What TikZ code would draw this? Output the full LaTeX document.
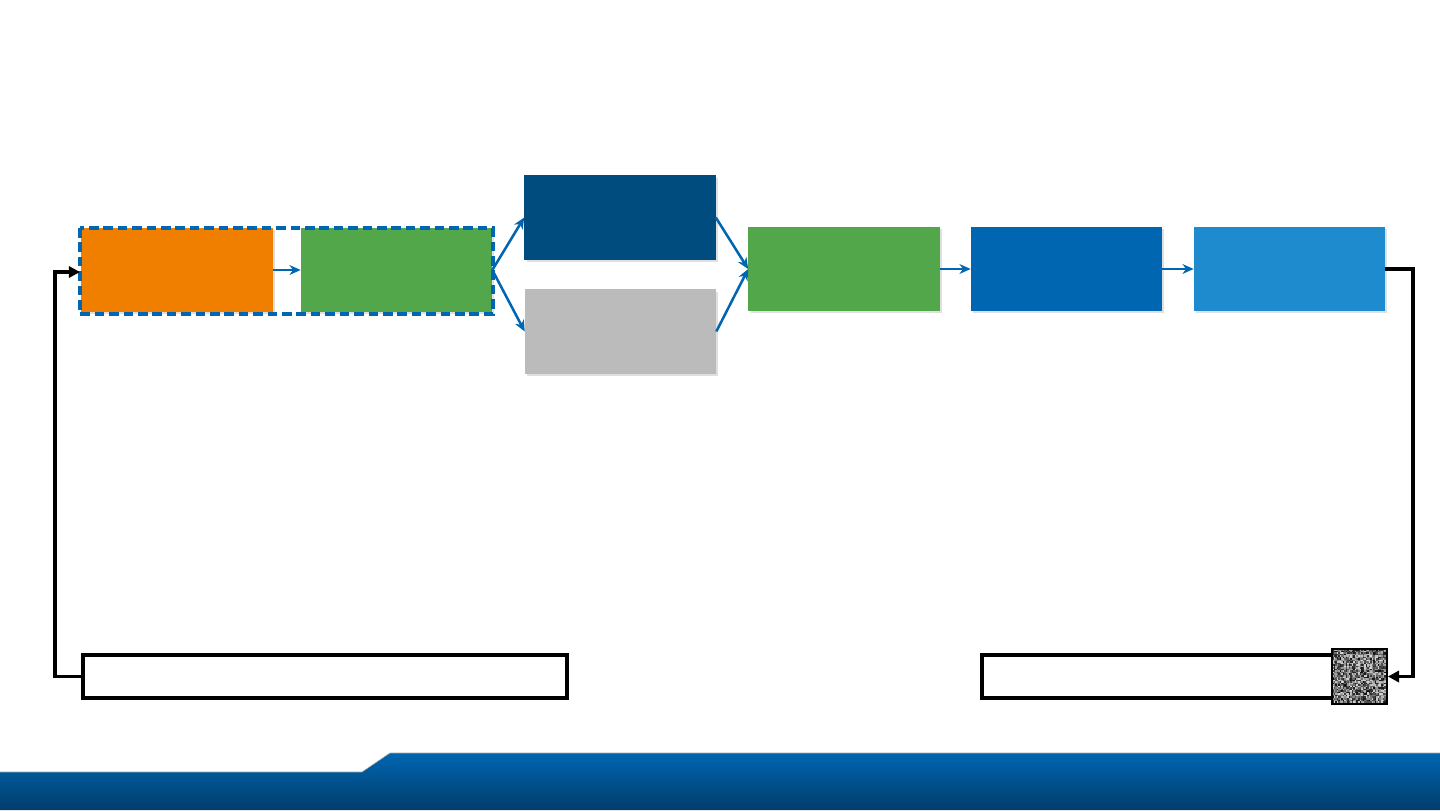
\documentclass[tikz,border=0pt]{standalone}
\usepackage{tikz}
\usetikzlibrary{arrows.meta,shadows,positioning}

\definecolor{stageorange}{HTML}{F07F00}
\definecolor{stagegreen}{HTML}{52A74B}
\definecolor{stagenavy}{HTML}{004C7E}
\definecolor{stagegray}{HTML}{BBBBBB}
\definecolor{stageblue}{HTML}{0066B1}
\definecolor{stagesky}{HTML}{1E8BCF}
\definecolor{bannertop}{HTML}{0066B1}
\definecolor{bannerbot}{HTML}{003D6B}

\begin{document}
\begin{tikzpicture}[x=0.025cm, y=-0.025cm,
	stage/.style={rectangle, inner sep=0pt, minimum width=4.775cm, minimum height=2.1cm,
		drop shadow={shadow xshift=0.06cm, shadow yshift=-0.06cm, opacity=0.25}},
	note box/.style={rectangle, draw=black, line width=2.4pt, fill=white, inner sep=0pt, minimum height=1.075cm},
	flow/.style={draw=stageblue, line width=1.8pt, -{Stealth[length=8pt, width=7pt]}},
	loop line/.style={draw=black, line width=2.2pt, -{Triangle[length=8pt, width=8pt]}}]

	\useasboundingbox (0,0) rectangle (1440,810);

	% stages
	\node[stage, fill=stageorange] (collect) at (177,270) {};
	\node[stage, fill=stagegreen] (prepare) at (396.5,270) {};
	\node[stage, fill=stagenavy] (upper) at (620,217.5) {};
	\node[stage, fill=stagegray] (lower) at (620.5,331.5) {};
	\node[stage, fill=stagegreen] (merge) at (844,269) {};
	\node[stage, fill=stageblue] (process) at (1066.5,269) {};
	\node[stage, fill=stagesky] (output) at (1289.5,269) {};

	% dashed group
	\draw[stageblue, line width=2.2pt, dash pattern=on 0.24cm off 0.12cm] (80,228) rectangle (493,314);

	% bottom boxes
	\node[note box, minimum width=12.1cm] (feedback) at (325,676.5) {};
	\node[note box, minimum width=8.775cm] (report) at (1157.5,676.5) {};
	\foreach \ix in {0,...,35}
		\foreach \iy in {0,...,35} {
			\pgfmathsetmacro\shadeval{int(random(15,95))}
			\fill[black!\shadeval] (1332+\ix*1.53,649+\iy*1.53) rectangle +(1.53,1.53);
		}
	\node[draw=black, line width=1.2pt, inner sep=0pt, minimum size=1.375cm] (code) at (1359.5,676.5) {};

	% connectors
	\path[flow] (collect.east) -- (prepare.west);
	\path[flow] (prepare.east) -- (upper.west);
	\path[flow] (prepare.east) -- (lower.west);
	\path[flow] (upper.east) -- (merge.west);
	\path[flow] (lower.east) -- (merge.west);
	\path[flow] (merge.east) -- (process.west);
	\path[flow] (process.east) -- (output.west);
	\coordinate (outturn) at (1413,269);
	\coordinate (inturn) at (55,272);
	\draw[loop line] (output.east) -- (outturn) |- (code.east);
	\draw[loop line] (feedback.west) -| (inturn) -- (80,272);

	% banner
	\shade[top color=bannertop, bottom color=bannerbot] (0,772) -- (362,772) -- (390,753) -- (1440,753) -- (1440,810) -- (0,810) -- cycle;
	\draw[gray!70, line width=0.4pt] (0,772) -- (362,772) -- (390,753) -- (1440,753);
\end{tikzpicture}
\end{document}
